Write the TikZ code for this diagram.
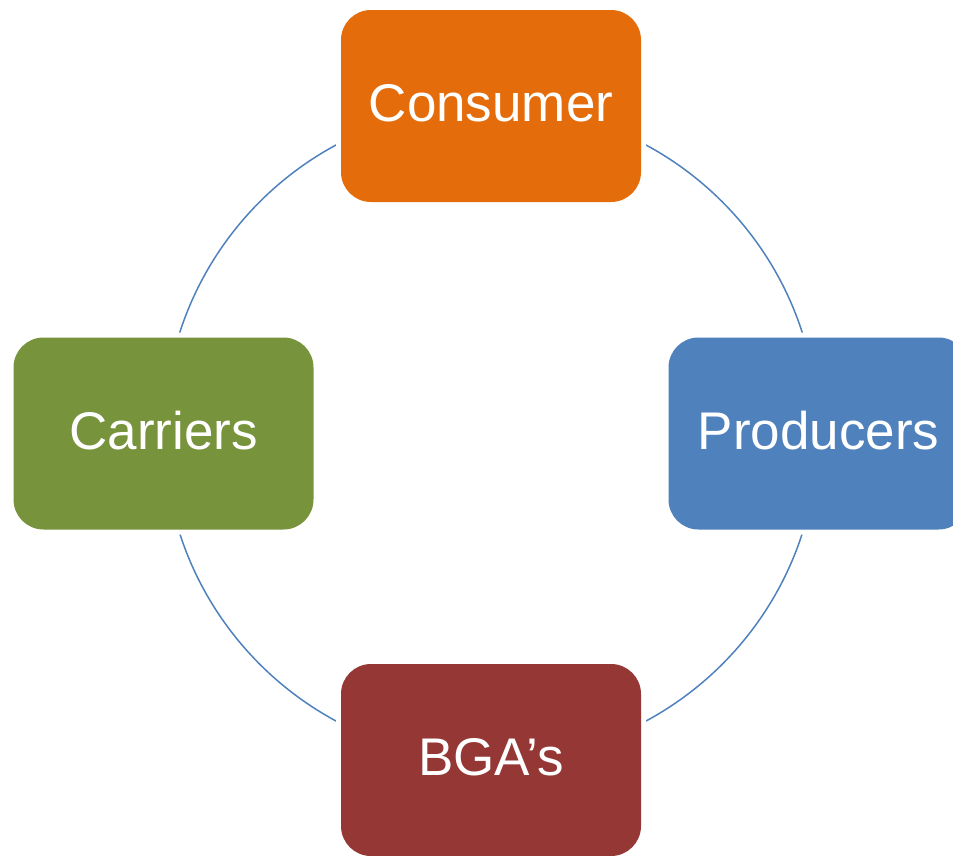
\documentclass[tikz,border=0pt]{standalone}
\usepackage{fontspec}
\setmainfont{Liberation Sans}

\definecolor{ringblue}{RGB}{79,129,189}
\definecolor{consorange}{RGB}{228,108,10}
\definecolor{carrgreen}{RGB}{119,147,60}
\definecolor{prodblue}{RGB}{79,129,189}
\definecolor{bgared}{RGB}{149,55,53}

\tikzset{every picture/.style={line width=0.75pt}}
\tikzset{
	block/.style={rounded corners=30, minimum width=300, minimum height=192, inner sep=0,
		text=white, text depth=6, font=\fontsize{53}{60}\selectfont,
		preaction={draw=white, line width=10}},
	ring/.style={draw=ringblue, line width=1.5},
}

\begin{document}
\begin{tikzpicture}[x=1pt,y=1pt,yscale=-1,xscale=1]
	\useasboundingbox (0,0) rectangle (953,855);
	\coordinate (hub) at (491,433);
	
	%Shape: Circle behind the blocks
	\draw [ring] (hub) circle [radius=327];
	
	%Shape: Rounded Rectangles
	\node [block, fill=consorange] (consumer) at (491,106) {Consumer};
	\node [block, fill=carrgreen] (carriers) at (163.5,433.5) {Carriers};
	\node [block, fill=prodblue] (producers) at (818.5,433.5) {Producers};
	\node [block, fill=bgared] (bgas) at (491,760) {BGA’s};
	
\end{tikzpicture}
\end{document}
